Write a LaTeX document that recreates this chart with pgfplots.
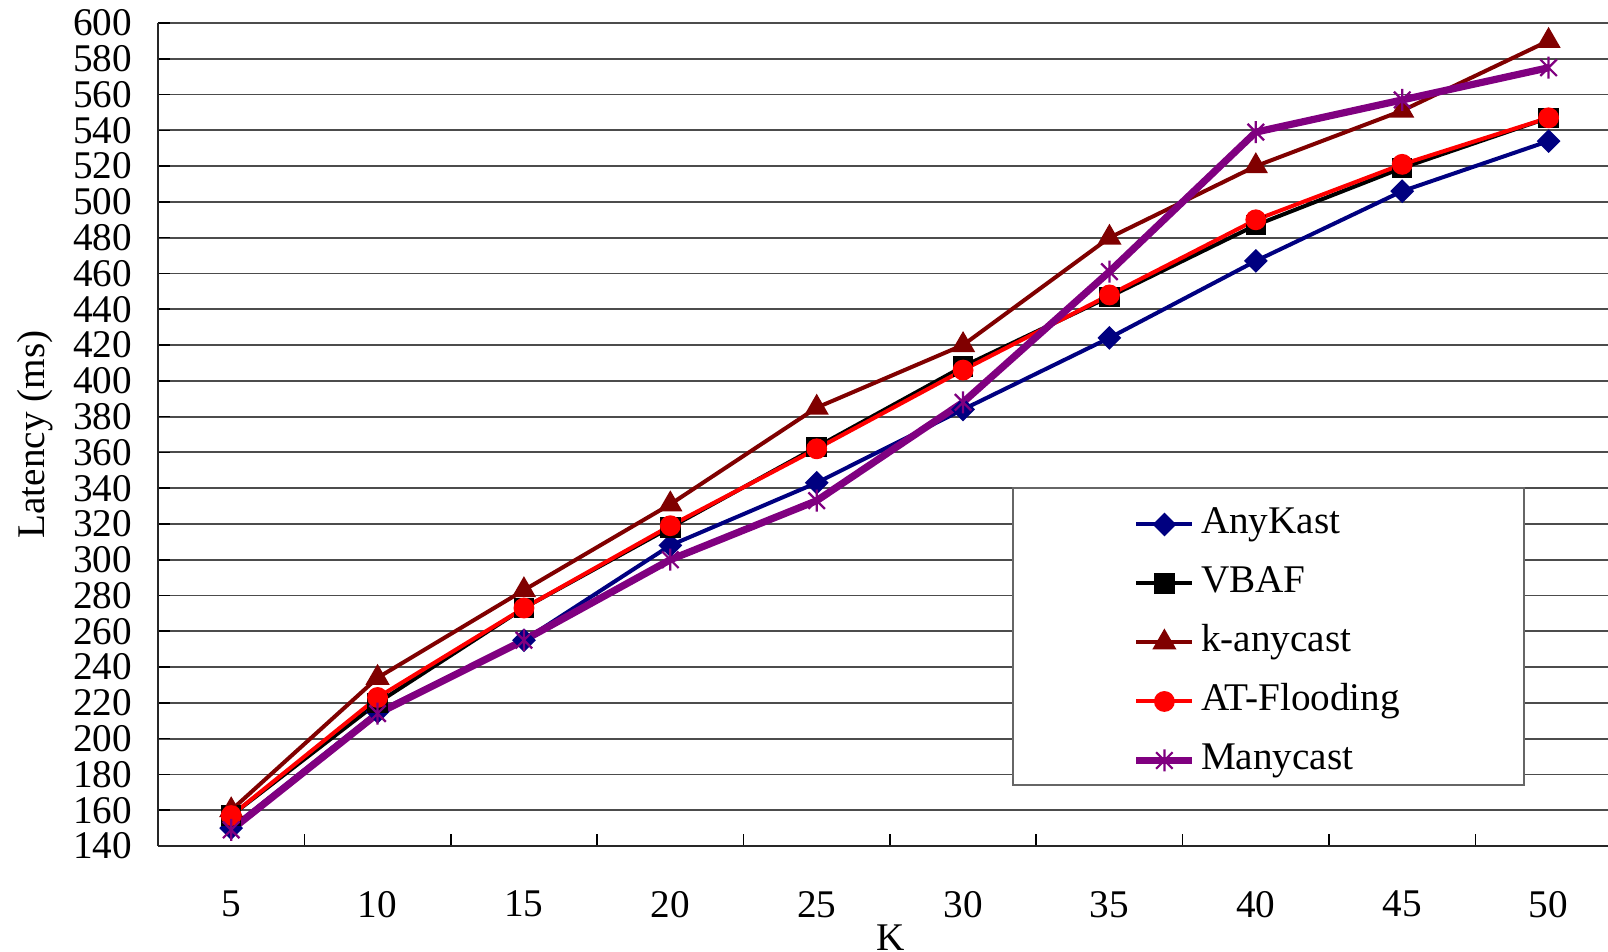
\documentclass[border=0pt]{standalone}
\usepackage{fontspec}
\setmainfont{Liberation Serif}
\usepackage{pgfplots}
\usepackage{pgfplotstable}
\pgfplotsset{compat=1.18}
\definecolor{anyk}{RGB}{0,0,128}
\definecolor{kany}{RGB}{128,0,0}
\definecolor{many}{RGB}{128,0,128}
\newcommand{\cf}{\fontsize{19.6pt}{23pt}\selectfont}
\pgfdeclareplotmark{xstar}{%
  \pgfpathmoveto{\pgfqpoint{0pt}{\pgfplotmarksize}}%
  \pgfpathlineto{\pgfqpoint{0pt}{-\pgfplotmarksize}}%
  \pgfpathmoveto{\pgfqpoint{-0.75\pgfplotmarksize}{0.75\pgfplotmarksize}}%
  \pgfpathlineto{\pgfqpoint{0.75\pgfplotmarksize}{-0.75\pgfplotmarksize}}%
  \pgfpathmoveto{\pgfqpoint{-0.75\pgfplotmarksize}{-0.75\pgfplotmarksize}}%
  \pgfpathlineto{\pgfqpoint{0.75\pgfplotmarksize}{0.75\pgfplotmarksize}}%
  \pgfusepathqstroke}
\pgfplotstableread{
K  AnyKast VBAF kany ATF  Many
5  150     157  160  157  149
10 215     220  234  223  214
15 255     273  283  273  255
20 308     318  331  319  300
25 343     363  385  362  333
30 384     408  420  406  388
35 424     447  480  448  461
40 467     487  520  490  539
45 506     519  551  521  557
50 534     547  590  547  575
}\data
\begin{document}
\begin{tikzpicture}
\begin{axis}[name=ax, scale only axis, width=725pt, height=411.5pt,
  xmin=2.5, xmax=52.03, ymin=140, ymax=600,
  axis x line*=bottom, axis y line*=left,
  axis line style={line width=1pt, black!85},
  xtick={5,10,...,50}, minor xtick={7.5,12.5,...,47.5},
  ytick={140,160,...,600},
  tick align=inside,
  major tick length=6pt, minor tick length=6pt,
  major x tick style={draw=none},
  tick style={black, line width=0.8pt},
  ymajorgrids, major grid style={black!70, line width=0.9pt},
  ticklabel style={font=\cf},
  /pgf/number format/assume math mode=true,
  yticklabel style={xshift=-9.5pt},
  xticklabel style={yshift=-19pt},
  xlabel={K}, ylabel={Latency (ms)},
  label style={font=\cf},
  xlabel style={at={(axis description cs:0.505,-0.0875)}, anchor=north},
  ylabel style={at={(axis description cs:-0.0675,0.5)}, anchor=south, rotate=0},
  legend style={draw=none, fill=none, at={(0.672,0.427)}, anchor=north west,
    inner sep=0pt, row sep=0pt, font=\cf,
    nodes={text height=14pt, text depth=4.5pt, inner ysep=5.5pt, inner xsep=2.5pt}},
  legend cell align=left,
  legend image code/.code={\draw[mark repeat=2,mark phase=2,#1] plot coordinates {(0pt,0pt) (14pt,0pt) (28pt,0pt)};},
  clip=false,
]
\draw[black!60, line width=0.8pt, fill=white] (rel axis cs:0.5897,0.0741) rectangle (rel axis cs:0.942,0.435);
\addplot[anyk, line width=2pt, mark=square*, mark size=3.2pt, mark options={rotate=45, solid}] table[x=K, y=AnyKast] {\data};
\addlegendentry{AnyKast}
\addplot[black, line width=2pt, mark=square*, mark size=4.1pt] table[x=K, y=VBAF] {\data};
\addlegendentry{VBAF}
\addplot[kany, line width=2pt, mark=triangle*, mark size=5pt] table[x=K, y=kany] {\data};
\addlegendentry{k-anycast}
\addplot[red, line width=2pt, mark=*, mark size=4.2pt] table[x=K, y=ATF] {\data};
\addlegendentry{AT-Flooding}
\addplot[many, line width=3.6pt, mark=xstar, mark size=5.5pt, mark options={line width=1.1pt}] table[x=K, y=Many] {\data};
\addlegendentry{Manycast}
\end{axis}
\pgfresetboundingbox
\path ([xshift=-79pt,yshift=-53pt]ax.south west) rectangle ([yshift=11.5pt]ax.north east);
\end{tikzpicture}
\end{document}
